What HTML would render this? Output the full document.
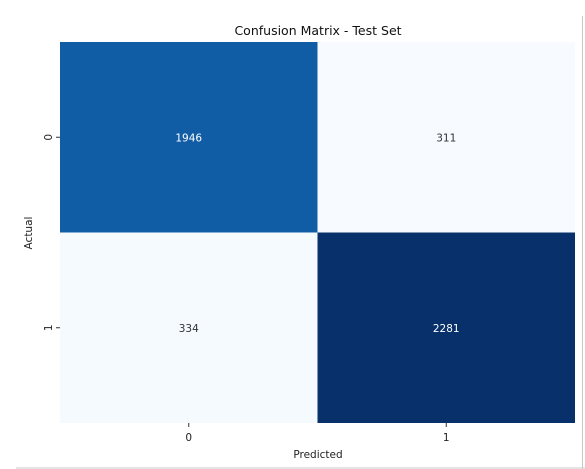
<!DOCTYPE html>
<html><head><meta charset="utf-8"><style>
html,body{margin:0;padding:0;background:#fff;}
svg{display:block;font-family:"DejaVu Sans","Liberation Sans",sans-serif;}
</style></head><body>
<svg id="chart" width="585" height="469">
  <line x1="16" y1="468" x2="585" y2="468" stroke="#c8c8c8" stroke-width="1"/>
  <line x1="582.5" y1="16" x2="582.5" y2="469" stroke="#c8c8c8" stroke-width="1"/>
  <text x="318" y="35" text-anchor="middle" font-size="12.5" fill="#111">Confusion Matrix - Test Set</text>
  <g id="cells"></g>
  <g id="axes"></g>
  <text x="318" y="458" text-anchor="middle" font-size="10.5" fill="#222">Predicted</text>
  <text transform="translate(32,233) rotate(-90)" text-anchor="middle" font-size="10.5" fill="#222">Actual</text>
</svg>
<script>
const xCategories = ["0", "1"];
const yCategories = ["0", "1"];
const row0 = [1946, 311];
const row1 = [334, 2281];
const matrix = [row0, row1];

const L = 60, R = 575, T = 42, B = 423;
const cw = (R - L) / xCategories.length, ch = (B - T) / yCategories.length;
const xs = i => L + i * cw;
const ys = j => T + j * ch;
const all = matrix.flat();
const vmin = Math.min(...all), vmax = Math.max(...all);
const stops = [[247,251,255],[222,235,247],[198,219,239],[158,202,225],[107,174,214],[66,146,198],[33,113,181],[8,81,156],[8,48,107]];
function color(v){
  let t = (v - vmin) / (vmax - vmin || 1);
  t = Math.max(0, Math.min(1, t)) * (stops.length - 1);
  const i = Math.min(stops.length - 2, Math.floor(t)), f = t - i;
  const c = stops[i].map((a, k) => Math.round(a + (stops[i+1][k] - a) * f));
  return `rgb(${c[0]},${c[1]},${c[2]})`;
}
const NS = "http://www.w3.org/2000/svg";
const cells = document.getElementById('cells');
const axes = document.getElementById('axes');
matrix.forEach((row, j) => row.forEach((v, i) => {
  const r = document.createElementNS(NS, 'rect');
  r.setAttribute('x', xs(i)); r.setAttribute('y', ys(j));
  r.setAttribute('width', cw); r.setAttribute('height', ch);
  r.setAttribute('fill', color(v));
  
  
  cells.appendChild(r);
  const t = document.createElementNS(NS, 'text');
  t.setAttribute('x', xs(i) + cw / 2); t.setAttribute('y', ys(j) + ch / 2 + 4);
  t.setAttribute('text-anchor', 'middle'); t.setAttribute('font-size', '10.5');
  const tt = (v - vmin) / (vmax - vmin || 1);
  t.setAttribute('fill', tt > 0.5 ? '#ffffff' : '#333333');
  t.textContent = v;
  
  
  cells.appendChild(t);
}));
xCategories.forEach((c, i) => {
  const x = xs(i) + cw / 2;
  const l = document.createElementNS(NS, 'line');
  l.setAttribute('x1', x); l.setAttribute('x2', x); l.setAttribute('y1', B); l.setAttribute('y2', B + 4);
  l.setAttribute('stroke', '#333');
  
  
  axes.appendChild(l);
  const t = document.createElementNS(NS, 'text');
  t.setAttribute('x', x); t.setAttribute('y', B + 18);
  t.setAttribute('text-anchor', 'middle'); t.setAttribute('font-size', '10.5'); t.setAttribute('fill', '#222');
  t.textContent = c;
  
  
  axes.appendChild(t);
});
yCategories.forEach((c, j) => {
  const y = ys(j) + ch / 2;
  const l = document.createElementNS(NS, 'line');
  l.setAttribute('x1', L - 4); l.setAttribute('x2', L); l.setAttribute('y1', y); l.setAttribute('y2', y);
  l.setAttribute('stroke', '#333');
  
  
  axes.appendChild(l);
  const t = document.createElementNS(NS, 'text');
  t.setAttribute('transform', `translate(${L - 8},${y}) rotate(-90)`);
  t.setAttribute('text-anchor', 'middle'); t.setAttribute('font-size', '10.5'); t.setAttribute('fill', '#222');
  t.textContent = c;
  
  
  axes.appendChild(t);
});
</script>
</body></html>
